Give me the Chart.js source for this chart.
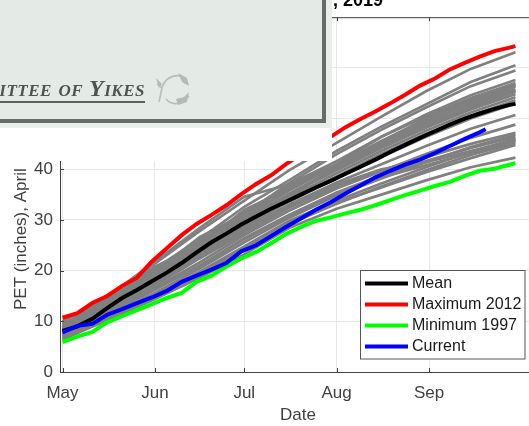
<!DOCTYPE html>
<html>
<head>
<meta charset="utf-8">
<title>PET</title>
<script src="https://cdn.jsdelivr.net/npm/chart.js@4/dist/chart.umd.min.js"></script>
<style>
    html, body { margin: 0; padding: 0; background: #fff; }
    #wrap { position: relative; width: 529px; height: 426px; overflow: hidden; }
    canvas { position: absolute; left: 0; top: 0; }
    /* pasted card that covers the upper left of the plot */
    #patch { position: absolute; left: 0; top: 0; width: 332px; height: 161px; background: #fff; }
    #cardEdge { position: absolute; left: 0; top: 0; width: 332px; height: 128px; background: #e9eeeb; }
    #card { position: absolute; left: -5px; top: -5px; width: 323px; height: 120px; background: #e4ebe6; border: 4px solid #666c68; }
    #sign { position: absolute; right: 384px; top: 75px; font: italic bold 24px "Liberation Serif", serif; font-variant: small-caps;
            color: #4c5551; white-space: nowrap; border-bottom: 2px solid #5c625e; line-height: 26px; letter-spacing: 0.5px; filter: blur(0.4px); }
    #leaf { position: absolute; left: 154px; top: 72px; filter: blur(0.5px); }
</style>
</head>
<body>
<div id="wrap">
    <canvas id="chart" width="536" height="426"></canvas>
    <div id="patch"></div>
    <div id="cardEdge"></div>
    <div id="card"></div>
    <div id="sign">ittee of Yikes</div>
    <svg id="leaf" width="38" height="38" viewBox="0 0 38 38">
        <path d="M3 12 L8 16 M8 16 C10 8 18 2 26 4 M8 16 L5 30 M12 27 C18 34 28 33 35 24" stroke="#b8bdb9" stroke-width="1.6" fill="none"/>
        <path d="M24 1 L33 6 L35 14 L28 10 Z M22 27 L30 25 L35 20 L33 30 L24 33 Z M2 6 L8 12 L5 16 Z" fill="#b4bab6"/>
    </svg>
</div>
<script>
// Values (days since May 1, PET in inches)
const monthTicks = [0, 31, 61, 92, 123];
const monthLabels = ['May', 'Jun', 'Jul', 'Aug', 'Sep'];
const yTicks = [0, 10, 20, 30, 40, 50, 60, 70];

const lineDays = [0, 5, 10, 15, 20, 25, 30, 35, 40, 45, 50, 55, 60, 65, 70, 75, 80, 85, 90, 95, 100, 105, 110, 115, 120, 125, 130, 135, 140, 145, 150, 152];
const maxValues = [10.7, 11.6, 13.6, 15.0, 17.0, 18.6, 21.8, 24.4, 27.0, 29.2, 31.0, 32.9, 35.1, 37.1, 38.8, 41.0, 42.9, 44.8, 46.4, 48.3, 49.9, 51.4, 53.0, 54.7, 56.5, 57.9, 59.7, 61.0, 62.2, 63.3, 64.0, 64.3];
const meanValues = [8.1, 9.0, 10.5, 12.6, 14.6, 16.2, 17.9, 19.6, 21.5, 23.6, 25.6, 27.3, 29.1, 30.7, 32.2, 33.6, 35.0, 36.4, 37.7, 39.1, 40.5, 41.9, 43.4, 44.8, 46.2, 47.5, 48.8, 50.0, 51.0, 51.9, 52.7, 52.9];
const minValues = [5.9, 7.0, 7.9, 9.8, 11.0, 12.2, 13.4, 14.6, 15.6, 17.8, 19.0, 20.8, 22.4, 23.7, 25.4, 27.2, 28.6, 29.8, 30.5, 31.3, 32.0, 32.9, 33.9, 34.9, 35.8, 36.7, 37.5, 38.7, 39.7, 40.1, 40.9, 41.2];
const currentDays = [0, 5, 10, 15, 20, 25, 30, 35, 40, 45, 50, 55, 60, 65, 70, 75, 80, 85, 90, 95, 100, 105, 110, 115, 120, 125, 130, 135, 140, 142];
const currentValues = [7.8, 9.1, 9.5, 11.3, 12.4, 13.6, 14.7, 16.0, 17.8, 19.0, 20.2, 21.5, 23.8, 25.0, 26.8, 28.6, 30.3, 32.0, 33.5, 35.2, 36.8, 38.4, 39.7, 40.9, 41.9, 43.2, 44.6, 46.0, 47.3, 47.9];

// the other years, thin gray lines
const yearDays = [0, 15, 31, 46, 61, 76, 92, 107, 122, 137, 152];
const year01 = [9.9, 14.6, 21.4, 27.8, 33.8, 39.8, 45.2, 50.4, 55.4, 59.8, 63.1];
const year02 = [10.0, 14.3, 20.4, 26.2, 32.6, 37.8, 43.6, 48.4, 52.8, 57.2, 60.5];
const year03 = [9.3, 13.8, 19.7, 26.6, 31.2, 37.2, 43.0, 47.8, 52.2, 56.4, 59.5];
const year04 = [9.0, 14.0, 20.8, 25.0, 32.0, 36.2, 41.0, 46.4, 50.8, 54.6, 57.6];
const year05 = [9.5, 13.4, 19.3, 25.4, 30.4, 35.8, 40.8, 45.4, 50.0, 54.0, 57.0];
const year06 = [8.4, 13.2, 18.9, 24.6, 30.9, 36.0, 40.6, 45.0, 49.2, 53.2, 56.3];
const year07 = [8.9, 13.0, 19.4, 25.0, 30.0, 35.2, 40.2, 44.6, 48.6, 52.2, 55.3];
const year08 = [8.7, 13.6, 18.6, 24.8, 29.6, 35.0, 39.8, 44.2, 48.2, 51.8, 54.8];
const year09 = [8.0, 12.7, 18.6, 23.8, 29.2, 34.4, 39.2, 43.6, 47.6, 51.2, 54.2];
const year10 = [8.3, 12.9, 17.9, 24.2, 28.8, 34.0, 38.6, 43.0, 47.0, 50.6, 53.6];
const year11 = [7.8, 12.4, 18.3, 23.4, 28.6, 33.6, 38.2, 42.4, 46.4, 50.0, 53.0];
const year12 = [8.2, 12.2, 17.4, 23.0, 28.2, 33.0, 37.4, 41.0, 44.6, 48.0, 50.7];
const year13 = [7.4, 12.0, 17.0, 22.4, 27.4, 32.4, 36.6, 39.8, 42.4, 45.0, 47.2];
const year14 = [7.7, 11.6, 16.6, 21.6, 27.0, 31.8, 36.2, 39.6, 43.0, 46.2, 48.8];
const year15 = [7.0, 11.3, 16.2, 21.0, 26.4, 31.0, 35.4, 38.8, 41.6, 44.2, 46.4];
const year16 = [7.2, 11.0, 15.6, 20.4, 25.6, 30.4, 34.8, 38.2, 41.4, 44.4, 46.8];
const year17 = [6.8, 10.8, 15.0, 19.8, 24.8, 29.8, 33.8, 37.2, 40.4, 43.4, 46.0];
const year18 = [6.5, 10.4, 14.8, 19.2, 24.0, 29.2, 33.2, 36.6, 39.8, 42.8, 45.2];
const year19 = [6.4, 10.2, 14.4, 18.6, 23.2, 28.4, 32.2, 35.0, 37.8, 40.4, 42.3];
const year20 = [8.6, 14.8, 21.8, 28.4, 34.6, 37.0, 41.6, 46.4, 50.4, 54.0, 56.8];
const year21 = [8.0, 13.4, 19.0, 25.6, 31.6, 36.6, 41.0, 45.6, 49.8, 53.6, 56.6];
const year22 = [7.1, 12.2, 17.8, 22.8, 27.8, 32.8, 37.0, 40.0, 41.4, 43.6, 45.8];
const year23 = [9.2, 14.2, 19.9, 26.0, 30.7, 37.0, 40.9, 45.2, 49.4, 53.0, 55.8];
const year24 = [8.5, 12.6, 18.0, 24.0, 29.9, 34.6, 40.4, 44.8, 48.8, 52.6, 55.5];
const year25 = [7.5, 11.9, 16.4, 20.8, 26.2, 30.8, 35.0, 38.4, 40.8, 43.2, 45.6];
const year26 = [6.9, 11.1, 15.4, 19.6, 24.4, 29.4, 33.4, 36.4, 39.4, 42.2, 44.8];

const grayYears = [year01, year02, year03, year04, year05, year06, year07, year08, year09, year10, year11,
    year12, year13, year14, year15, year16, year17, year18, year19, year20, year21, year22, year23, year24, year25, year26];

const toPoints = (days, values) => values.map((v, i) => ({ x: days[i], y: v }));

const mainLine = (label, days, values, color) => ({
    label: label,
    data: toPoints(days, values),
    borderColor: color,
    borderWidth: 4,
    pointRadius: 0,
    tension: 0
});

// first dataset paints on top in Chart.js
const datasets = [
    mainLine('Current', currentDays, currentValues, '#0000ff'),
    mainLine('Minimum 1997', lineDays, minValues, '#00ff00'),
    mainLine('Maximum 2012', lineDays, maxValues, '#ff0000'),
    mainLine('Mean', lineDays, meanValues, '#000000')
];
grayYears.forEach(values => {
    datasets.push({
        label: '',
        data: toPoints(yearDays, values),
        borderColor: '#808080',
        borderWidth: 2.7,
        pointRadius: 0,
        tension: 0
    });
});

const legendOrder = ['Mean', 'Maximum 2012', 'Minimum 1997', 'Current'];
const legendRows = [283.5, 304.5, 325.5, 346.5];

// inward ticks, box line on top, legend and the leftover text
const extras = {
    id: 'extras',
    afterDatasetsDraw(chart) {
        const { ctx, chartArea: area, scales } = chart;
        ctx.save();
        ctx.strokeStyle = '#404040';
        ctx.lineWidth = 1;
        ctx.beginPath();
        ctx.moveTo(area.left, area.top + 0.5);
        ctx.lineTo(area.right, area.top + 0.5);
        monthTicks.forEach(d => {
            const x = Math.round(scales.x.getPixelForValue(d)) + 0.5;
            ctx.moveTo(x, area.bottom);
            ctx.lineTo(x, area.bottom - 4);
            ctx.moveTo(x, area.top);
            ctx.lineTo(x, area.top + 4);
        });
        yTicks.forEach(v => {
            const y = Math.round(scales.y.getPixelForValue(v)) + 0.5;
            ctx.moveTo(area.left, y);
            ctx.lineTo(area.left + 4, y);
        });
        ctx.stroke();

        // legend box
        ctx.fillStyle = '#fff';
        ctx.fillRect(360.5, 270.5, 164.5, 88.5);
        ctx.strokeStyle = '#555';
        ctx.strokeRect(360.5, 270.5, 164.5, 88.5);
        ctx.font = '16px "Liberation Sans", sans-serif';
        ctx.textBaseline = 'middle';
        legendOrder.forEach((label, i) => {
            const set = chart.data.datasets.find(d => d.label === label);
            ctx.strokeStyle = set.borderColor;
            ctx.lineWidth = 4;
            ctx.beginPath();
            ctx.moveTo(365, legendRows[i]);
            ctx.lineTo(408, legendRows[i]);
            ctx.stroke();
            ctx.fillStyle = '#1a1a1a';
            ctx.fillText(label, 412, legendRows[i] + 0.5);
        });

        // what is left of the title
        ctx.fillStyle = '#000';
        ctx.font = 'bold 18px "Liberation Sans", sans-serif';
        ctx.textBaseline = 'alphabetic';
        ctx.fillText(', 2019', 333, 6);

        // y label, its upper end stops under the card
        ctx.translate(26, 310);
        ctx.rotate(-Math.PI / 2);
        ctx.fillStyle = '#404040';
        ctx.font = '17px "Liberation Sans", sans-serif';
        ctx.fillText('PET (inches), April', 0, 0);
        ctx.restore();
    }
};

new Chart(document.getElementById('chart'), {
    type: 'line',
    data: { datasets: datasets },
    plugins: [extras],
    options: {
        responsive: false,
        animation: false,
        layout: { padding: { top: 12, left: 0, right: 0, bottom: 0 } },
        plugins: { legend: { display: false }, tooltip: { enabled: false }, title: { display: false } },
        scales: {
            x: {
                type: 'linear',
                min: -0.84,
                max: 158.9,
                afterBuildTicks: axis => { axis.ticks = monthTicks.map(v => ({ value: v })); },
                afterFit: axis => { axis.height = 54; },
                ticks: {
                    autoSkip: false,
                    maxRotation: 0,
                    padding: 11,
                    color: '#404040',
                    font: { family: '"Liberation Sans"', size: 17 },
                    callback: v => monthLabels[monthTicks.indexOf(v)]
                },
                grid: { color: '#e8e8e8', drawTicks: false },
                border: { color: '#404040' },
                title: {
                    display: true,
                    text: 'Date',
                    color: '#404040',
                    font: { family: '"Liberation Sans"', size: 17 },
                    padding: { top: 0, bottom: 0 }
                }
            },
            y: {
                min: 0,
                max: 70,
                afterBuildTicks: axis => { axis.ticks = yTicks.map(v => ({ value: v })); },
                afterFit: axis => { axis.width = 60; },
                ticks: {
                    padding: 7,
                    color: '#404040',
                    font: { family: '"Liberation Sans"', size: 17 }
                },
                grid: { color: '#e8e8e8', drawTicks: false },
                border: { color: '#404040' }
            }
        }
    }
});
</script>
</body>
</html>
